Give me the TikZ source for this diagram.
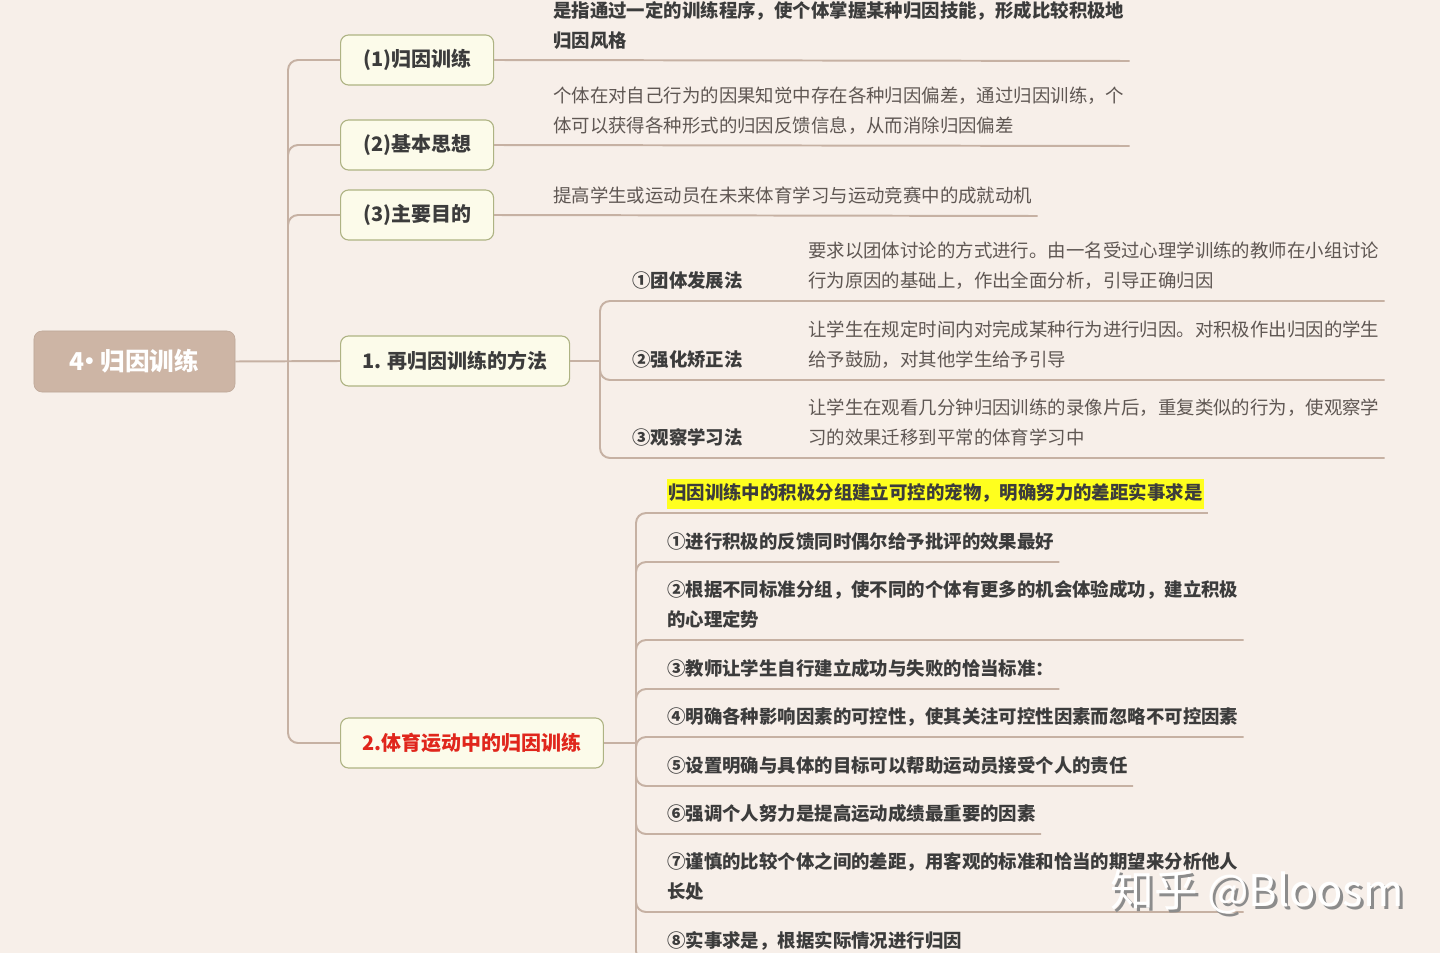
\documentclass[tikz,border=0pt]{standalone}
\usepackage{fontspec}
\setmainfont{Noto Sans CJK SC}
\usetikzlibrary{positioning, calc}

\definecolor{paper}{HTML}{F7EFE9}
\definecolor{rootfill}{HTML}{CDB5A5}
\definecolor{topicfill}{HTML}{FCFBEA}
\definecolor{topicline}{HTML}{AEB383}
\definecolor{linkline}{HTML}{C6B1A3}
\definecolor{darktext}{HTML}{3C3C3C}
\definecolor{greytext}{HTML}{5F5753}
\definecolor{redtext}{HTML}{E0261C}
\definecolor{hlyellow}{HTML}{FFFF1E}

\newcommand{\leafsize}{\fontsize{13.1pt}{21.3pt}\selectfont}

\begin{document}
\begin{tikzpicture}[x=0.025cm, y=-0.025cm]

        % --- Styles ---
        \tikzstyle{rootbox} = [rectangle, rounded corners=0.2cm, minimum width=5.025cm, minimum height=1.525cm, draw=rootfill!92!black, fill=rootfill, text=white, font=\fontsize{17.5pt}{21pt}\selectfont\bfseries]
        \tikzstyle{topic} = [rectangle, rounded corners=0.2cm, minimum height=1.25cm, inner xsep=0.55cm, draw=topicline, line width=0.8pt, fill=topicfill, text=darktext, font=\fontsize{14.2pt}{17pt}\selectfont\bfseries]
        \tikzstyle{leaf} = [anchor=south west, inner xsep=0.125cm, inner ysep=2.9pt, align=left, text=greytext, font=\leafsize, execute at end node=\strut]
        \tikzstyle{leafbold} = [leaf, text=darktext, font=\leafsize\bfseries]
        \tikzstyle{hilite} = [leafbold, fill=hlyellow, inner xsep=0.025cm, inner ysep=0pt]
        \tikzstyle{link} = [draw=linkline, line width=1.4pt, rounded corners=0.25cm]

        % --- Canvas ---
        \useasboundingbox (0,0) rectangle (1440,953);
        \fill[paper] (0,0) rectangle (1440,953);
        \clip (0,0) rectangle (1440,953);

        % --- Nodes ---

        % root
        \node (root) [rootbox] at (134.5,361.5) {4\kern-0.3em·\kern-0.05em归因训练};

        % first level
        \node (train) [topic, anchor=west, minimum width=3.825cm] at (340,60) {(1)归因训练};
        \node (idea) [topic, anchor=west, minimum width=3.825cm] at (340,145) {(2)基本思想};
        \node (goal) [topic, anchor=west, minimum width=3.825cm] at (340,215) {(3)主要目的};
        \node (method) [topic, anchor=west] at (340,361) {1. 再归因训练的方法};
        \node (sport) [topic, anchor=west, text=redtext] at (340,743) {2.体育运动中的归因训练};

        % descriptions of (1)-(3)
        \node (train_desc) [leafbold] at (548,61) {是指通过一定的训练程序，使个体掌握某种归因技能，形成比较积极地\\归因风格};
        \draw[link] (train.east) -- (train_desc.south east);
        \node (idea_desc) [leaf] at (548,146) {个体在对自己行为的因果知觉中存在各种归因偏差，通过归因训练，个\\体可以获得各种形式的归因反馈信息，从而消除归因偏差};
        \node (goal_desc) [leaf] at (548,216) {提高学生或运动员在未来体育学习与运动竞赛中的成就动机};

        % methods
        \coordinate (method_fork) at (600,361);
        \node (group) [leafbold] at (627,301) {①团体发展法};
        \node (group_desc) [leaf] at (803,301) {要求以团体讨论的方式进行。由一名受过心理学训练的教师在小组讨论\\行为原因的基础上，作出全面分析，引导正确归因};
        \node (reinf) [leafbold] at (627,380) {②强化矫正法};
        \node (reinf_desc) [leaf] at (803,380) {让学生在规定时间内对完成某种行为进行归因。对积极作出归因的学生\\给予鼓励，对其他学生给予引导};
        \node (observe) [leafbold] at (627,458) {③观察学习法};
        \node (observe_desc) [leaf] at (803,458) {让学生在观看几分钟归因训练的录像片后，重复类似的行为，使观察学\\习的效果迁移到平常的体育学习中};

        % sport items
        \coordinate (sport_fork) at (636,743);
        \node (key) [hilite] at (667,509) {归因训练中的积极分组建立可控的宠物，明确努力的差距实事求是};
        \node (tip1) [leafbold] at (662,562) {①进行积极的反馈同时偶尔给予批评的效果最好};
        \node (tip2) [leafbold] at (662,640) {②根据不同标准分组，使不同的个体有更多的机会体验成功，建立积极\\的心理定势};
        \node (tip3) [leafbold] at (662,689) {③教师让学生自行建立成功与失败的恰当标准：};
        \node (tip4) [leafbold] at (662,737) {④明确各种影响因素的可控性，使其关注可控性因素而忽略不可控因素};
        \node (tip5) [leafbold] at (662,786) {⑤设置明确与具体的目标可以帮助运动员接受个人的责任};
        \node (tip6) [leafbold] at (662,834) {⑥强调个人努力是提高运动成绩最重要的因素};
        \node (tip7) [leafbold] at (662,912) {⑦谨慎的比较个体之间的差距，用客观的标准和恰当的期望来分析他人\\长处};
        \node (tip8) [leafbold] at (662,961) {⑧实事求是，根据实际情况进行归因};

        % --- Links ---
        \coordinate (root_fork) at (288,361);
        \draw[link] (root.east) -- (method.west);
        \foreach \kid in {train, idea, goal, sport}
            \draw[link] (root_fork) |- (\kid.west);

        \draw[link] (idea.east) -- (idea_desc.south east);
        \draw[link] (goal.east) -- (goal_desc.south east);

        \draw[link] (method.east) -- (method_fork);
        \foreach \kid in {group_desc, reinf_desc, observe_desc}
            \draw[link] (method_fork) |- (\kid.south east);

        \draw[link] (sport.east) -- (sport_fork);
        \draw[link] (sport_fork) |- ([shift={(4,4)}]key.south east);
        \foreach \kid in {tip1, tip2, tip3, tip4, tip5, tip6, tip7, tip8}
            \draw[link] (sport_fork) |- (\kid.south east);

        % --- Watermark ---
        \node (mark_shade) [text=black!45, font=\fontsize{31pt}{31pt}\selectfont] at (1260,895) {知乎 @Bloosm};
        \node (mark) [text=white, font=\fontsize{31pt}{31pt}\selectfont] at (1257,892) {知乎 @Bloosm};
\end{tikzpicture}
\end{document}
